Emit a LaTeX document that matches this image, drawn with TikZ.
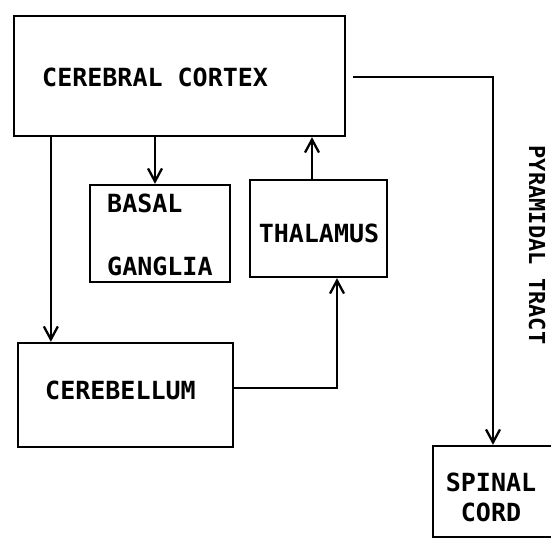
\documentclass[tikz,border=0pt]{standalone}
\usepackage{fontspec}
\newfontfamily\plotfont{DejaVu Sans Mono Bold}
\usetikzlibrary{arrows.meta}
\begin{document}
\begin{tikzpicture}[x=1pt,y=1pt,
  box/.style={draw,line width=2.3pt,inner sep=0pt,minimum width=#1},
  lbl/.style={font=\plotfont\fontsize{25}{25}\selectfont,inner sep=0pt},
  arr/.style={line width=2.3pt,-{Straight Barb[length=13pt,width=14pt,line width=2.3pt]}},
  ln/.style={line width=2.3pt}]
\useasboundingbox (0,0) rectangle (551,547);
\clip (0,0) rectangle (551,547);
% boxes
\node[box=331pt,minimum height=120pt] (cortex) at (179.5,471) {};
\node[box=140pt,minimum height=97pt] (basal) at (160,313.5) {};
\node[box=137pt,minimum height=97pt] (thal) at (318.5,318.5) {};
\node[box=215pt,minimum height=104pt] (cereb) at (125.5,152) {};
\node[box=120pt,minimum height=91pt] (spinal) at (493,55.5) {};
% texts
\node[lbl,anchor=west] (tcortex) at (42,470) {CEREBRAL CORTEX};
\node[lbl,anchor=west] (tbasal1) at (107,344) {BASAL};
\node[lbl,anchor=west] (tbasal2) at (107,281) {GANGLIA};
\node[lbl] (tthal) at (319,314) {THALAMUS};
\node[lbl,anchor=west] (tcereb) at (45,157) {CEREBELLUM};
\node[lbl] (tspinal1) at (491,65) {SPINAL};
\node[lbl] (tspinal2) at (491,35) {CORD};
\node[lbl,font=\plotfont\fontsize{22}{22}\selectfont,rotate=-90] (tpyr) at (537,302) {PYRAMIDAL TRACT};
% connectors
\draw[arr] ([xshift=-5pt]basal.north |- cortex.south) -- ([xshift=-5pt]basal.north);
\draw[arr] ([xshift=-6.5pt]thal.north) -- ([xshift=-6.5pt]thal.north |- cortex.south);
\draw[arr] ([xshift=38pt]cortex.south west) -- ([xshift=38pt]cortex.south west |- cereb.north);
\draw[arr] ([yshift=7pt]cereb.east) -| ([xshift=18.5pt]thal.south);
\draw[arr] ([xshift=7pt,yshift=-1pt]cortex.east) -| (spinal.north);
\end{tikzpicture}
\end{document}
